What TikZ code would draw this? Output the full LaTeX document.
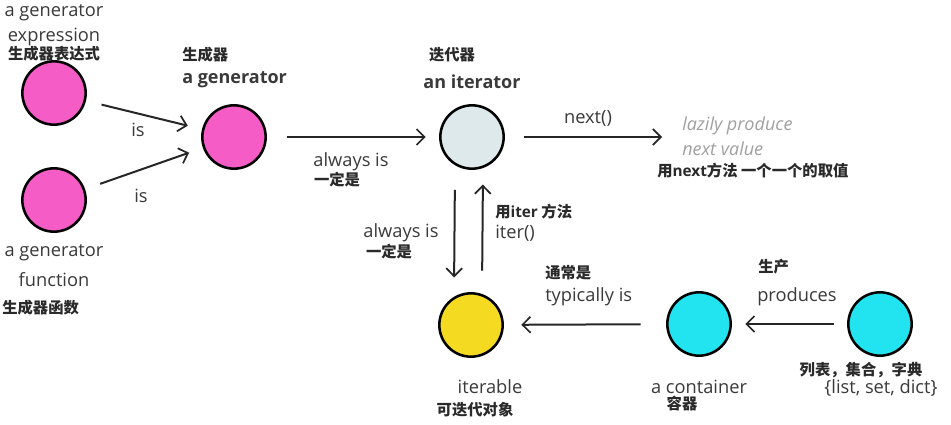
\documentclass[tikz,border=0pt]{standalone}
\usepackage{fontspec}
\setmainfont{Open Sans}
\newfontfamily\cjk{Noto Sans CJK SC}
\usetikzlibrary{arrows.meta}
\definecolor{pinkc}{HTML}{F65CC6}
\definecolor{iterc}{HTML}{DDE9EB}
\definecolor{yelc}{HTML}{F5DA22}
\definecolor{cyanc}{HTML}{22E4F1}
\definecolor{txt}{HTML}{3A3A3A}
\definecolor{lazy}{HTML}{A0A0A0}
\definecolor{cjkc}{HTML}{2A2A2A}
\tikzset{
  ball/.style={circle, draw=black, line width=1.9pt, minimum size=47.5pt, inner sep=0pt},
  lbl/.style={text=txt, font=\fontsize{13.7}{16}\selectfont, inner sep=0pt},
  blbl/.style={text=txt, font=\fontsize{13.5}{16}\selectfont\bfseries, inner sep=0pt},
  zh/.style={text=cjkc, font=\cjk\fontsize{11.5}{13}\selectfont\bfseries, inner sep=0pt},
  lz/.style={text=lazy, font=\fontsize{13.5}{16}\selectfont\itshape, inner sep=0pt},
  arr/.style={draw=black!85, line width=1.5pt, -{Straight Barb[length=6pt,width=12pt,line width=1.3pt]}}
}
\begin{document}
\begin{tikzpicture}[x=0.75pt,y=-0.75pt]
\useasboundingbox[fill=white] (0,0) rectangle (951,425);
% circles
\node[ball, fill=pinkc] (expr) at (54,93) {};
\node[ball, fill=pinkc] (func) at (54,200) {};
\node[ball, fill=pinkc] (gen) at (234,137) {};
\node[ball, fill=iterc] (iter) at (472,137) {};
\node[ball, fill=yelc] (itb) at (471,325) {};
\node[ball, fill=cyanc] (cont) at (699,324) {};
\node[ball, fill=cyanc] (lsd) at (880,324) {};
% labels
\node[lbl] (t1) at (54,13) {a generator};
\node[lbl] (t2) at (54,37) {expression};
\node[zh] (t3) at (54,54) {生成器表达式};
\node[zh, anchor=west] (t4) at (182,55) {生成器};
\node[blbl, anchor=west] (t5) at (182,80) {a generator};
\node[lbl] (is1) at (138,130) {is};
\node[lbl] (is2) at (141,196) {is};
\node[lbl] (t6) at (54,253) {a generator};
\node[lbl] (t7) at (54,280) {function};
\node[zh, anchor=west] (t8) at (2,308) {生成器函数};
\node[lbl] (al1) at (351,162) {always is};
\node[zh] (al1z) at (337,180) {一定是};
\node[zh] (t9) at (452,55) {迭代器};
\node[blbl] (t10) at (472,82) {an iterator};
\node[lbl] (nx) at (588,118) {next()};
\node[lz, anchor=west] (lz1) at (682,126) {lazily produce};
\node[lz, anchor=west] (lz2) at (682,149) {next value};
\node[zh, anchor=west] (nxz) at (657,171) {用{\fontspec{Open Sans}\bfseries next}方法 一个一个的取值};
\node[lbl] (al2) at (401,233) {always is};
\node[zh] (al2z) at (389,252) {一定是};
\node[zh, anchor=west] (itz) at (495,212) {用{\fontspec{Open Sans}\bfseries iter} 方法};
\node[lbl, anchor=west] (itr) at (495,233) {iter()};
\node[zh, anchor=west] (tyz) at (545,273) {通常是};
\node[lbl, anchor=west] (ty) at (545,297) {typically is};
\node[lbl] (ib) at (490,387) {iterable};
\node[zh] (ibz) at (475,410) {可迭代对象};
\node[lbl] (ct) at (699,387) {a container};
\node[zh] (ctz) at (682,404) {容器};
\node[zh, anchor=west] (prz) at (758,267) {生产};
\node[lbl, anchor=west] (pr) at (757,297) {produces};
\node[zh] (lsz) at (861,370) {列表，集合，字典};
\node[lbl] (ls) at (881,388) {\{list, set, dict\}};
% connectors
\draw[arr, shorten <=12pt, shorten >=11pt] (expr) -- (gen);
\draw[arr, shorten <=12pt, shorten >=11pt] (func) -- (gen);
\draw[arr, shorten <=15pt, shorten >=10pt] (gen) -- (iter);
\draw[arr, shorten <=14pt, shorten >=15pt] (iter) -- (iter -| lz1.west);
\draw[arr, shorten <=15pt, shorten >=11pt] ([xshift=-12.75pt]iter.south) -- ([xshift=-12.75pt]itb.north);
\draw[arr, shorten <=16pt, shorten >=11pt] ([xshift=8.25pt]itb.north) -- ([xshift=8.25pt]iter.south);
\draw[arr, shorten <=19pt, shorten >=13pt] (cont) -- (itb);
\draw[arr, shorten <=10pt, shorten >=10pt] (lsd) -- (cont);
\end{tikzpicture}
\end{document}
